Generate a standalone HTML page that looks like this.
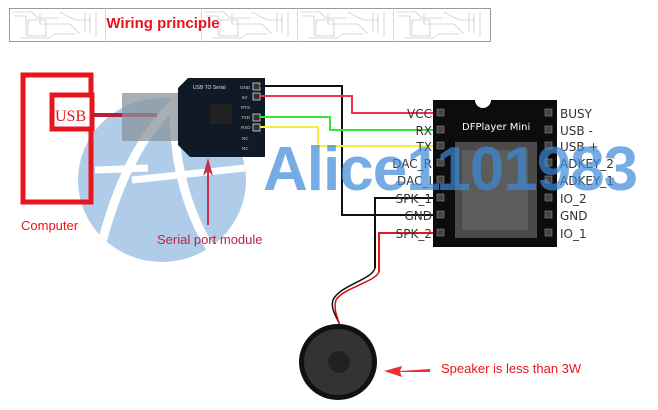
<!DOCTYPE html>
<html><head><meta charset="utf-8"><style>
body{margin:0;background:#fff;width:658px;height:405px;overflow:hidden;font-family:"Liberation Sans",sans-serif}
</style></head><body>
<svg width="658" height="405" xmlns="http://www.w3.org/2000/svg" font-family="Liberation Sans, sans-serif">
<rect x="9.5" y="8.5" width="481" height="33" fill="#fff" stroke="#999"/>
<g stroke="#ccc" stroke-width="0.8" fill="none">
<line x1="105.5" y1="8" x2="105.5" y2="42"/><line x1="201.5" y1="8" x2="201.5" y2="42"/>
<line x1="297.5" y1="8" x2="297.5" y2="42"/><line x1="393.5" y1="8" x2="393.5" y2="42"/>
<g id="cp"><path d="M12 12h20l6 6h20M14 16h12v20M40 14v10h30l10 10M60 12l15 8h15M85 12v20M90 14v20M96 12v25M20 38h30l5-4h20"/><rect x="28" y="20" width="18" height="16"/></g>
<use href="#cp" x="192"/><use href="#cp" x="288"/><use href="#cp" x="384"/>
</g>
<text x="163" y="28" font-size="15" font-weight="bold" fill="#e8141e" text-anchor="middle">Wiring principle</text>

<g opacity="0.55">
<ellipse cx="162" cy="180" rx="84" ry="82" fill="#6fa3d6"/>
<path d="M100 250 C120 170 150 120 190 90" stroke="#fff" stroke-width="9" fill="none"/>
<path d="M175 95 C170 160 190 220 215 255" stroke="#fff" stroke-width="9" fill="none"/>
<line x1="95" y1="170" x2="148" y2="168" stroke="#fff" stroke-width="7"/>
<line x1="132" y1="180" x2="245" y2="168" stroke="#fff" stroke-width="7"/>
</g>

<rect x="23" y="75" width="68" height="127" fill="none" stroke="#e8141e" stroke-width="5"/>
<rect x="52" y="95" width="40" height="34" fill="#fff" stroke="#e8141e" stroke-width="5"/>
<text x="55" y="121" font-family="Liberation Serif, serif" font-size="16" fill="#e8141e">USB</text>
<line x1="92" y1="115" x2="157" y2="115" stroke="#b5203a" stroke-width="4"/>
<text x="21" y="230" font-size="13" fill="#e8141e">Computer</text>

<rect x="122" y="93" width="60" height="48" fill="#8a949c" opacity="0.75"/>
<polygon points="188,78 265,78 265,157 190,157 178,145 178,88" fill="#0f1a26"/>
<text x="193" y="89" font-size="5" fill="#ddd">USB TO Serial</text>
<rect x="210" y="104" width="22" height="20" fill="#222"/>
<g font-size="4.5" fill="#ccc"><text x="240" y="89">GND</text><text x="242" y="99">5V</text><text x="241" y="109">RTS</text><text x="241" y="119">TXD</text><text x="241" y="129">RXD</text><text x="242" y="140">NC</text><text x="242" y="150">NC</text></g>
<g fill="#333" stroke="#ddd" stroke-width="0.8">
<rect x="253" y="83" width="7" height="7"/><rect x="253" y="93" width="7" height="7"/><rect x="253" y="114" width="7" height="7"/><rect x="253" y="124" width="7" height="7"/></g>
<path d="M207 225 L207 172 L203 176 L208 158 L213 176 L209 172 L209 225 Z" fill="#c43048"/>
<text x="157" y="244" font-size="13" fill="#b8234a">Serial port module</text>

<g fill="none" stroke-width="2">
<polyline points="260,86 342,86 342,215 441,215" stroke="#111"/>
<polyline points="260,96 352,96 352,113 441,113" stroke="#f03058"/>
<polyline points="260,117 330,117 330,130 441,130" stroke="#33e833"/>
<polyline points="260,127 318,127 318,146 441,146" stroke="#f0f040"/>
<polyline points="441,198 375,198 375,268" stroke="#111"/>
<polyline points="441,233 379,233 379,272" stroke="#e81818"/>
<path d="M375 268 C372 280 340 285 333 300 C330 310 338 318 340 326" stroke="#111" stroke-width="1.5"/>
<path d="M379 272 C375 282 343 288 336 300 C333 310 338 318 340 326" stroke="#d01010" stroke-width="1.5"/>
</g>

<path d="M433 100 H475 A8 8 0 0 0 491 100 H557 V247 H433 Z" fill="#0c0c0c"/>
<rect x="455" y="142" width="82" height="96" fill="#4a4a4a"/>
<rect x="462" y="150" width="66" height="80" fill="#5c5c5c"/>
<text x="462" y="130" font-family="DejaVu Sans, sans-serif" font-size="10" fill="#fff">DFPlayer Mini</text>
<g fill="#444" stroke="#888" stroke-width="0.6">
<rect x="437" y="109" width="7" height="7"/><rect x="437" y="126" width="7" height="7"/><rect x="437" y="142" width="7" height="7"/><rect x="437" y="159" width="7" height="7"/><rect x="437" y="176" width="7" height="7"/><rect x="437" y="194" width="7" height="7"/><rect x="437" y="211" width="7" height="7"/><rect x="437" y="229" width="7" height="7"/>
<rect x="545" y="109" width="7" height="7"/><rect x="545" y="126" width="7" height="7"/><rect x="545" y="142" width="7" height="7"/><rect x="545" y="159" width="7" height="7"/><rect x="545" y="176" width="7" height="7"/><rect x="545" y="194" width="7" height="7"/><rect x="545" y="211" width="7" height="7"/><rect x="545" y="229" width="7" height="7"/></g>
<g font-family="DejaVu Sans, sans-serif" font-size="12" fill="#333">
<g text-anchor="end"><text x="432" y="118">VCC</text><text x="432" y="135">RX</text><text x="432" y="151">TX</text><text x="432" y="168">DAC_R</text><text x="432" y="185">DAC_I</text><text x="432" y="203">SPK_1</text><text x="432" y="220">GND</text><text x="432" y="238">SPK_2</text></g>
<text x="560" y="118">BUSY</text><text x="560" y="135">USB -</text><text x="560" y="151">USB +</text><text x="560" y="168">ADKEY_2</text><text x="560" y="185">ADKEY_1</text><text x="560" y="203">IO_2</text><text x="560" y="220">GND</text><text x="560" y="238">IO_1</text></g>

<text x="263" y="190" font-size="62" font-weight="bold" fill="#3c8ad9" opacity="0.7" letter-spacing="-1">Alice1101983</text>

<ellipse cx="338" cy="362" rx="39" ry="38" fill="#111"/>
<ellipse cx="338" cy="362" rx="34" ry="33" fill="#333"/>
<circle cx="339" cy="362" r="11" fill="#222"/>
<path d="M430 369 L400 371 L402 366 L384 371 L402 377 L400 372 L430 372 Z" fill="#f03030"/>
<text x="441" y="373" font-size="13" fill="#e8141e">Speaker is less than 3W</text>
</svg>
</body></html>
